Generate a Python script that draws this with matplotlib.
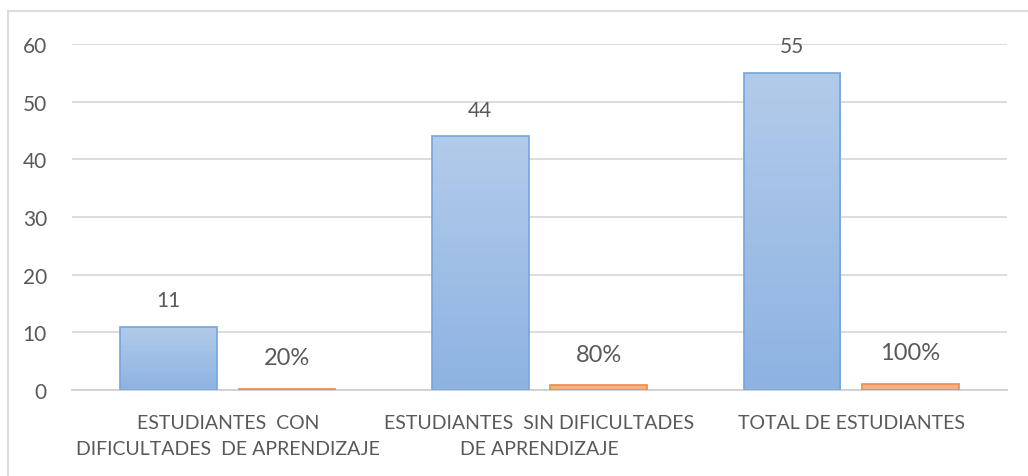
import matplotlib
matplotlib.use("Agg")
import matplotlib.pyplot as plt
from matplotlib.lines import Line2D
import numpy as np

# datos
categorias = ["ESTUDIANTES  CON\nDIFICULTADES  DE APRENDIZAJE",
              "ESTUDIANTES  SIN DIFICULTADES\nDE APRENDIZAJE",
              "TOTAL DE ESTUDIANTES"]
estudiantes = [11, 44, 55]
porcentaje = [0.2, 0.8, 1.0]
etiquetas_pct = ["20%", "80%", "100%"]

plt.rcParams["font.family"] = ["Lato", "DejaVu Sans"]
gris = "#595959"

fig = plt.figure(figsize=(10.28, 4.77), dpi=100)
ax = fig.add_axes([0.070, 0.1803, 0.9096, 0.7254])

x = np.arange(len(categorias))
ancho = 0.31
desp = 0.19

b1 = ax.bar(x - desp, estudiantes, ancho, color="none", edgecolor="#74a5dd", linewidth=1.2, zorder=3)
b2 = ax.bar(x + desp, porcentaje, ancho, color="#f4b183", edgecolor="#ee8a4c", linewidth=1.2, zorder=3)

# degradado azul dentro de cada barra
grad = np.linspace(0, 1, 256).reshape(-1, 1)
cmap = matplotlib.colors.LinearSegmentedColormap.from_list("az", ["#8db3e2", "#b3cbea"])
for r in b1:
    x0, y0 = r.get_x(), r.get_y()
    im = ax.imshow(grad, cmap=cmap, origin="lower", aspect="auto",
                   extent=[x0, x0 + r.get_width(), y0, y0 + r.get_height()], zorder=2.5)
    im.set_clip_path(r)

for r, v in zip(b1, estudiantes):
    ax.annotate(str(v), (r.get_x() + r.get_width() / 2, v), xytext=(0, 12),
                textcoords="offset points", ha="center", va="bottom",
                fontsize=15, color=gris)
for r, v, t in zip(b2, porcentaje, etiquetas_pct):
    ax.annotate(t, (r.get_x() + r.get_width() / 2, v), xytext=(0, 15),
                textcoords="offset points", ha="center", va="bottom",
                fontsize=17, color=gris)

ax.set_xlim(-0.5, 2.5)
ax.set_ylim(0, 60)
ax.set_yticks(range(0, 61, 10))
ax.set_xticks(x)
ax.set_xticklabels(categorias, fontsize=14, color=gris, linespacing=1.65)
ax.tick_params(axis="y", length=0, pad=18, labelsize=15, labelcolor=gris)
ax.tick_params(axis="x", length=0, pad=17)
ax.yaxis.grid(True, color="#d9d9d9", linewidth=1.3, zorder=0)
ax.set_axisbelow(True)
for s in ["top", "right", "left"]:
    ax.spines[s].set_visible(False)
ax.spines["bottom"].set_color("#d0d0d0")
ax.spines["bottom"].set_linewidth(1.3)

# marco del grafico
fig.add_artist(Line2D([0.0078, 1.0], [0.9748, 0.9748], color="#d9d9d9", linewidth=1.3))
fig.add_artist(Line2D([0.0078, 0.0078], [0.9748, 0.0], color="#d9d9d9", linewidth=1.3))

fig.savefig("out.png", dpi=100)
